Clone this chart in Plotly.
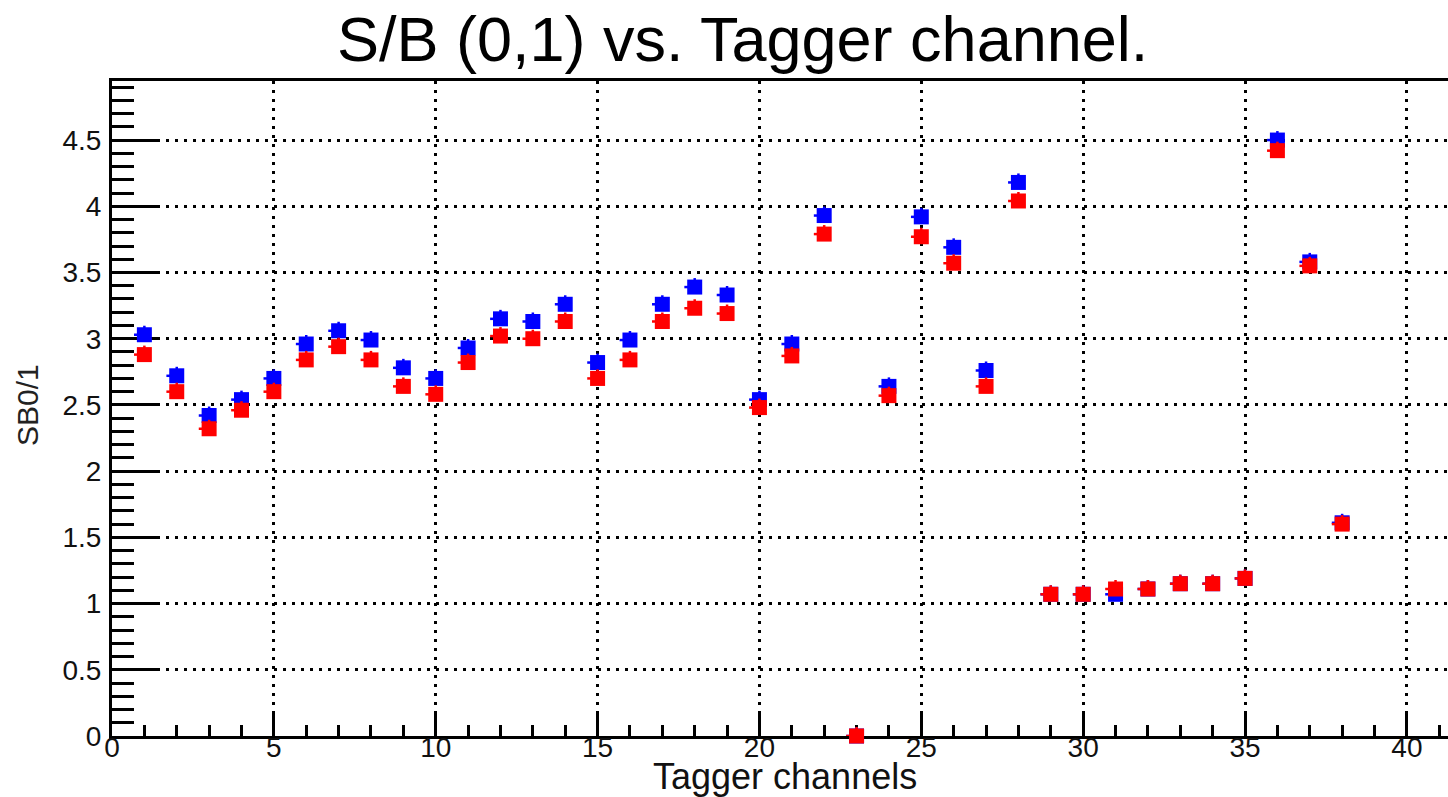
import plotly.graph_objects as go

# Tagger channel numbers
channels = list(range(1, 39))

# S/B for selection 0 (blue) and selection 1 (red)
sb0 = [3.03, 2.72, 2.42, 2.54, 2.70, 2.96, 3.06, 2.99, 2.78, 2.70,
       2.93, 3.15, 3.13, 3.26, 2.82, 2.99, 3.26, 3.39, 3.33, 2.54,
       2.96, 3.93, 0.00, 2.64, 3.92, 3.69, 2.76, 4.18, 1.07, 1.07,
       1.07, 1.11, 1.15, 1.15, 1.19, 4.50, 3.58, 1.61]
sb1 = [2.88, 2.60, 2.32, 2.46, 2.60, 2.84, 2.94, 2.84, 2.64, 2.58,
       2.82, 3.02, 3.00, 3.13, 2.70, 2.84, 3.13, 3.23, 3.19, 2.48,
       2.87, 3.79, 0.00, 2.57, 3.77, 3.57, 2.64, 4.04, 1.07, 1.07,
       1.11, 1.11, 1.15, 1.15, 1.19, 4.42, 3.55, 1.60]

# small one-sided error ticks drawn with each point
x_err = 0.32
y_err = 0.068

X_RANGE = [0, 41.27]
FONT = "Liberation Sans, Arial, sans-serif"
TICKFONT = dict(family=FONT, size=28, color="#111")


def series(name, values, color):
    n = len(values)
    return go.Scatter(
        x=channels, y=values, name=name, mode="markers",
        cliponaxis=False,
        marker=dict(symbol="square", size=15, color=color, line=dict(width=0)),
        error_x=dict(type="data", symmetric=False, array=[0] * n,
                     arrayminus=[x_err] * n, width=0, thickness=2.5, color=color),
        error_y=dict(type="data", symmetric=False, array=[y_err] * n,
                     arrayminus=[0] * n, width=0, thickness=2.5, color=color),
    )


fig = go.Figure([series("SB0", sb0, "#0000ff"), series("SB1", sb1, "#ff0000")])

axis_common = dict(
    showline=True, linecolor="black", linewidth=3,
    ticks="inside", tickcolor="black", tickwidth=3,
    showgrid=True, gridcolor="black", gridwidth=2.5, griddash="3px,6px",
    zeroline=False, layer="below traces",
    tickfont=TICKFONT,
)

# main x axis: frame, ticks and grid; numbers come from a label-only axis
fig.update_xaxes(
    **axis_common, range=X_RANGE, tick0=0, dtick=5, ticklen=22,
    mirror=True, showticklabels=False,
    minor=dict(dtick=1, ticklen=11, tickwidth=3, tickcolor="black",
               ticks="inside", showgrid=False),
)
fig.update_yaxes(
    **axis_common, range=[0, 4.946], tick0=0, dtick=0.5, ticklen=45,
    ticklabelstandoff=2,
    minor=dict(dtick=0.1, ticklen=22, tickwidth=3, tickcolor="black",
               ticks="inside", showgrid=False),
)

fig.update_layout(
    xaxis2=dict(overlaying="x", matches="x", range=X_RANGE, side="bottom",
                anchor="free", position=0.0122, tick0=0, dtick=5,
                showline=False, ticks="", showgrid=False, zeroline=False,
                tickfont=TICKFONT),
    width=1448, height=797,
    margin=dict(l=112, r=0, t=81, b=61),
    paper_bgcolor="white", plot_bgcolor="white",
    showlegend=False,
    font=dict(family=FONT, color="black"),
    annotations=[
        dict(text="S/B (0,1) vs. Tagger channel.", xref="paper", yref="paper",
             x=0.4716, y=1.0641, xanchor="center", yanchor="middle",
             showarrow=False, font=dict(family=FONT, size=63, color="black")),
        dict(text="Tagger channels", xref="paper", yref="paper",
             x=0.5037, y=-0.0625, xanchor="center", yanchor="middle",
             showarrow=False, font=dict(family=FONT, size=36, color="#111")),
        dict(text="SB0/1", xref="paper", yref="paper", textangle=-90,
             x=-0.0636, y=0.5053, xanchor="center", yanchor="middle",
             showarrow=False, font=dict(family=FONT, size=30, color="#222")),
    ],
)

# invisible companion trace so the label-only axis is drawn
fig.add_trace(go.Scatter(x=X_RANGE, y=[None, None], xaxis="x2", yaxis="y",
                         mode="markers", hoverinfo="skip", showlegend=False))

fig.write_html("out.html")
